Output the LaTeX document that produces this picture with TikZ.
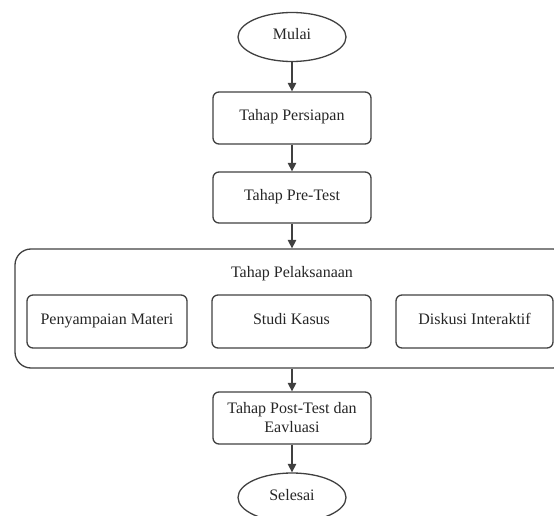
\documentclass[tikz,border=0pt]{standalone}
\usepackage{fontspec}
\setmainfont{Liberation Serif}
\usetikzlibrary{shapes.geometric}
\usetikzlibrary{arrows.meta}

\begin{document}
\begin{tikzpicture}[
    x=1pt, y=1pt,
    every node/.style={font=\fontsize{16}{19}\selectfont, text=black!85, text height=1.5ex, text depth=.4ex},
    tahap/.style={draw=black!75, line width=1.3pt, rounded corners=6pt, minimum width=158pt, minimum height=52pt, align=center},
    ujung/.style={draw=black!75, line width=1.3pt, ellipse, minimum width=108pt, minimum height=49pt},
    line style/.style={draw=black!75, line width=1.3pt, -{Triangle[length=8.5pt, width=8.5pt]}}
]
    \useasboundingbox (0,0) rectangle (554,-516);

    % Start and first stages
    \node[ujung] (mulai) at (292,-37) {Mulai};
    \node[tahap] (persiapan) at (292,-118) {Tahap Persiapan};
    \node[tahap, minimum height=51pt] (pretest) at (292,-197.5) {Tahap Pre-Test};

    % Big stage with three parts
    \node[tahap, rounded corners=16pt, minimum width=554pt, minimum height=119pt] (pelaksanaan) at (292,-308.5) {};
    \node (judul) at (292,-275) {Tahap Pelaksanaan};
    \node[tahap, minimum width=160pt, minimum height=53pt] (materi) at (107,-321.5) {Penyampaian Materi};
    \node[tahap, minimum width=159pt, minimum height=53pt] (studi) at (291.5,-321.5) {Studi Kasus};
    \node[tahap, minimum width=157pt, minimum height=53pt] (diskusi) at (474.5,-321.5) {Diskusi Interaktif};

    % Last stages
    \node[tahap, text height=, text depth=] (posttest) at (292,-418) {Tahap Post-Test dan\\Eavluasi};
    \node[ujung] (selesai) at (292,-497.5) {Selesai};

    % Arrows
    \draw[line style] (mulai) -- (persiapan);
    \draw[line style] (persiapan) -- (pretest);
    \draw[line style] (pretest) -- (pelaksanaan);
    \draw[line style] (pelaksanaan) -- (posttest);
    \draw[line style] (posttest) -- (selesai);

\end{tikzpicture}
\end{document}
